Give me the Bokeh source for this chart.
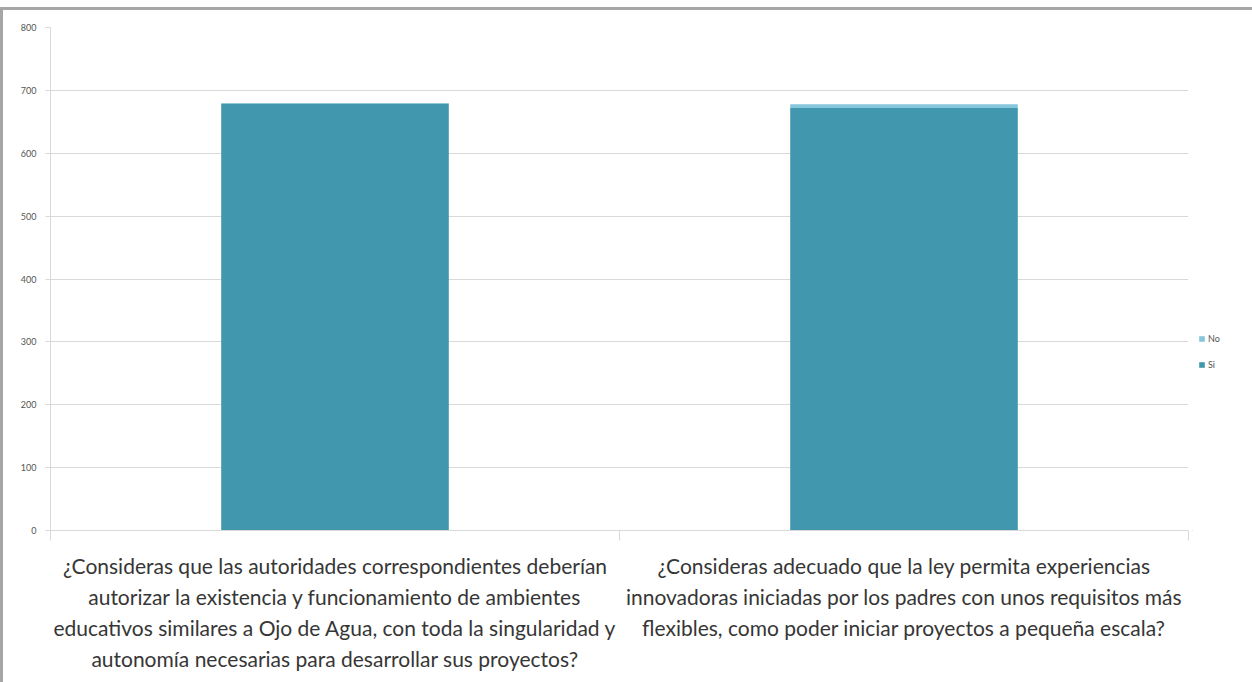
from bokeh.plotting import figure
from bokeh.models import Range1d, FixedTicker, Legend, LegendItem
from bokeh.layouts import row
from bokeh.embed import file_html
from bokeh.resources import INLINE

questions = [
    "¿Consideras que las autoridades correspondientes deberían\nautorizar la existencia y funcionamiento de ambientes\neducativos similares a Ojo de Agua, con toda la singularidad y\nautonomía necesarias para desarrollar sus proyectos?",
    "¿Consideras adecuado que la ley permita experiencias\ninnovadoras iniciadas por los padres con unos requisitos más\nflexibles, como poder iniciar proyectos a pequeña escala?",
]
x_pos = [0.5, 1.5]
si_values = [679, 672]
no_values = [1, 6]
y_ticks = [0, 100, 200, 300, 400, 500, 600, 700, 800]
series = ["Si", "No"]

SI_COLOR = "#4197ae"
NO_COLOR = "#86c6dc"

p = figure(width=1189, height=672, output_backend="svg", toolbar_location=None,
           x_range=Range1d(0, 2), y_range=Range1d(0, 800),
           min_border_left=47, min_border_top=17, min_border_right=4, min_border_bottom=152)
p.outline_line_color = None
p.background_fill_color = "white"
p.border_fill_color = "white"

src = dict(x=x_pos, Si=si_values, No=no_values)
rs = p.vbar_stack(series, x="x", width=0.4, color=[SI_COLOR, NO_COLOR], source=src, line_color=None)

# y axis
p.yaxis.ticker = FixedTicker(ticks=y_ticks)
p.yaxis.axis_line_color = "#d9d9d9"
p.yaxis.major_tick_line_color = "#d9d9d9"
p.yaxis.major_tick_out = 5
p.yaxis.major_tick_in = 0
p.yaxis.minor_tick_line_color = None
p.yaxis.major_label_text_font = "Lato"
p.yaxis.major_label_text_font_size = "9px"
p.yaxis.major_label_text_color = "#555555"
p.yaxis.major_label_standoff = 9
p.ygrid.ticker = FixedTicker(ticks=y_ticks)
p.ygrid.grid_line_color = "#d9d9d9"
p.xgrid.grid_line_color = None

# x axis
p.xaxis.ticker = FixedTicker(ticks=x_pos, minor_ticks=[0, 1, 2])
p.xaxis.major_label_overrides = {x_pos[i]: questions[i] for i in range(2)}
p.xaxis.axis_line_color = "#d9d9d9"
p.xaxis.major_tick_line_color = None
p.xaxis.major_tick_out = 0
p.xaxis.major_tick_in = 0
p.xaxis.minor_tick_line_color = "#d9d9d9"
p.xaxis.minor_tick_out = 10
p.xaxis.minor_tick_in = 0
p.xaxis.major_label_text_font = "Lato"
p.xaxis.major_label_text_font_size = "21px"
p.xaxis.major_label_text_color = "#363636"
p.xaxis.major_label_text_line_height = 1.25
p.xaxis.major_label_standoff = 12

# legend panel at the right (its renderers lie outside its visible range)
pl = figure(width=60, height=672, output_backend="svg", toolbar_location=None,
            x_axis_type=None, y_axis_type=None,
            x_range=Range1d(100, 102), y_range=Range1d(5000, 5100),
            min_border_left=0, min_border_right=0, min_border_top=0, min_border_bottom=0)
pl.outline_line_color = None
pl.grid.grid_line_color = None
r_no = pl.vbar(x=x_pos, top=no_values, width=0, fill_color=NO_COLOR, line_color=None)
r_si = pl.vbar(x=x_pos, top=si_values, width=0, fill_color=SI_COLOR, line_color=None)

legend = Legend(items=[LegendItem(label="No", renderers=[r_no]),
                       LegendItem(label="Si", renderers=[r_si])],
                location=(6, 160))
legend.padding = 0
legend.margin = 0
legend.border_line_color = None
legend.background_fill_alpha = 0
legend.glyph_width = 7
legend.glyph_height = 7
legend.label_height = 10
legend.label_standoff = 3
legend.spacing = 15
legend.label_text_font = "Lato"
legend.label_text_font_size = "9px"
legend.label_text_color = "#555555"
pl.add_layout(legend, "center")

layout = row(p, pl, spacing=0)
layout.styles = {"border-left": "3px solid #a6a6a6", "border-top": "3px solid #a6a6a6", "margin-top": "7px"}
open("out.html", "w").write(file_html(layout, INLINE))
